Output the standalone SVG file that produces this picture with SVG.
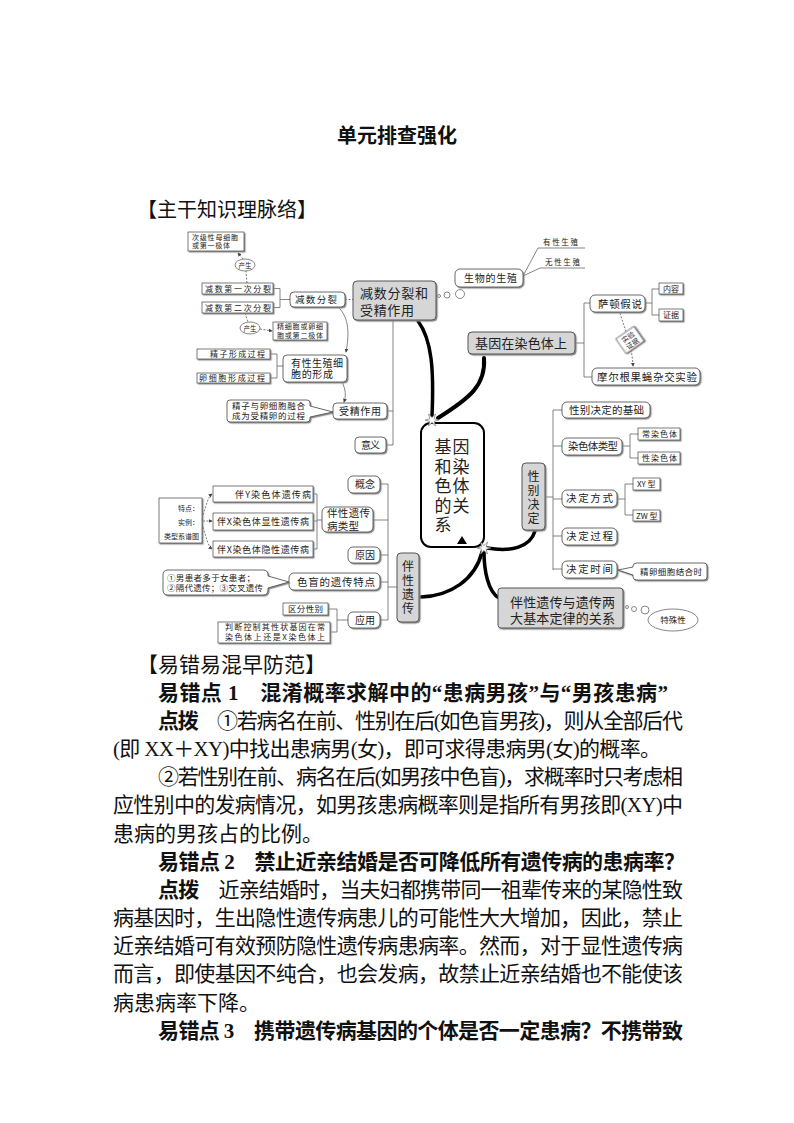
<svg xmlns="http://www.w3.org/2000/svg" width="794" height="1123" viewBox="0 0 794 1123">
<style>
text{font-family:"Liberation Serif","Noto Sans CJK SC",serif;fill:#111}
.m{font-family:"Noto Sans CJK SC",sans-serif;fill:#222}
.bt{font-size:21px}
.bd{font-weight:bold}
.sb{fill:#fff;stroke:#444;stroke-width:0.7;filter:url(#sh)}
.rb{fill:#fff;stroke:#444;stroke-width:0.8;filter:url(#sh)}
.gb{fill:#d6d6d6;stroke:#555;stroke-width:1;filter:url(#sh)}
.ln{fill:none;stroke:#666;stroke-width:0.8}
.ds{fill:none;stroke:#555;stroke-width:0.8;stroke-dasharray:2 1.5}
.tk{fill:none;stroke:#000;stroke-linecap:round}
.bub{fill:#fff;stroke:#555;stroke-width:0.7}
.st{fill:#fff;stroke:#777;stroke-width:0.7}
</style>
<defs>
<filter id="sh" x="-10%" y="-10%" width="130%" height="140%"><feDropShadow dx="1.2" dy="1.2" stdDeviation="0.5" flood-color="#8a8a8a"/></filter>
<marker id="ar" viewBox="0 0 6 6" refX="5" refY="3" markerWidth="5" markerHeight="5" orient="auto"><path d="M0,0 L6,3 L0,6 Z" fill="#444"/></marker>
<polygon id="star" points="7,0 2.17,1.25 3.5,6.06 0,2.5 -3.5,6.06 -2.17,1.25 -7,0 -2.17,-1.25 -3.5,-6.06 0,-2.5 3.5,-6.06 2.17,-1.25"/>
</defs>
<rect width="794" height="1123" fill="#fff"/>

<text x="397" y="143" font-size="20" font-weight="bold" text-anchor="middle">单元排查强化</text>
<text x="137" y="217" font-size="20">【主干知识理脉络】</text>

<g id="connectors">
<path class="ds" d="M247,283 L246,271"/>
<path class="ds" d="M243,259 L238,253" marker-end="url(#ar)"/>
<path class="ln" d="M273,288.5 H280 V307.5 H273 M280,299.5 H290"/>
<path class="ds" d="M345,299.5 H353"/>
<path class="ds" d="M245,313 L248,322"/>
<path class="ds" d="M260,329 L272,331" marker-end="url(#ar)"/>
<path class="ln" d="M270,354 H277 V378 H270 M277,366 H283"/>
<path class="ln" d="M338,307 C350,318 349,336 346,352" marker-end="url(#ar)"/>
<path class="ln" d="M342,382 C346,390 346,396 344,402" marker-end="url(#ar)"/>
<path class="ln" d="M393,320 V445 M387,411 H393 M386,445 H393"/>
<path class="ln" d="M523,276 L538,248 H585 M523,276 L540,268 H585"/>
<path class="ln" d="M575,343 H584 M584,303 V377 M584,303 H590 M584,377 H592"/>
<path class="ln" d="M645,303 H652 M652,289 V315 M652,289 H659 M652,315 H659"/>
<path class="ds" d="M620,313 C625,330 632,345 633,366" marker-end="url(#ar)"/>
<path class="ln" d="M545,497 H553 M553,410 V570 M553,410 H562 M553,446 H562 M553,499 H562 M553,536 H562 M553,569 H562"/>
<path class="ln" d="M622,446 H630 M630,434 V458 M630,434 H638 M630,458 H638"/>
<path class="ln" d="M617,499 H625 M625,484 V515 M625,484 H633 M625,515 H633"/>
<path class="ln" d="M397,587 H388 M388,484 V620 M388,484 H380 M388,520 H373 M388,555 H380 M388,582 H380 M388,620 H380"/>
<path class="ln" d="M348,620 H337 M337,609 V632 M337,609 H328 M337,632 H330"/>
<path class="ln" d="M322,520 H317 M317,494 V549 M317,494 H313 M317,521 H313 M317,549 H313"/>
<path class="ds" d="M203,515 C207,503 208,497 212,494" marker-end="url(#ar)"/>
<path class="ds" d="M203,521 H212" marker-end="url(#ar)"/>
<path class="ds" d="M203,527 C207,540 208,546 212,549" marker-end="url(#ar)"/>
<circle class="bub" cx="439" cy="296" r="1.5"/><circle class="bub" cx="447" cy="295" r="3"/><circle class="bub" cx="460" cy="294" r="4.5"/>
<circle class="bub" cx="627" cy="607" r="1.5"/><circle class="bub" cx="634" cy="609" r="2.5"/><circle class="bub" cx="645" cy="610" r="4"/>
<path class="tk" stroke-width="3.5" d="M418,321 C432,340 434,370 432,416"/>
<path class="tk" stroke-width="4" d="M484,358 C486,385 470,398 438,418"/>
<path class="tk" stroke-width="3.5" d="M535,531 C530,548 510,552 487,548"/>
<path class="tk" stroke-width="3.5" d="M421,597 C450,596 475,580 482,552"/>
<path class="tk" stroke-width="3.5" d="M499,598 C488,592 484,570 484,552"/>
</g>

<g id="n-cjms"><rect class="sb" x="188" y="232" width="56" height="19"/><text class="m" x="192" y="239.5" font-size="7" textLength="46">次级性母细胞</text><text class="m" x="192" y="248" font-size="7" textLength="38">或第一极体</text></g>
<g id="n-cs1"><ellipse class="bub" cx="245" cy="265" rx="10" ry="6"/><text class="m" x="245" y="267.5" font-size="6.5" text-anchor="middle">产生</text></g>
<g id="n-js1"><rect class="sb" x="202" y="283" width="71" height="11"/><text class="m" x="205" y="291.5" font-size="8" textLength="66">减数第一次分裂</text></g>
<g id="n-js2"><rect class="sb" x="202" y="302" width="71" height="11"/><text class="m" x="205" y="310.5" font-size="8" textLength="66">减数第二次分裂</text></g>
<g id="n-jsfl"><rect class="rb" x="290" y="292" width="55" height="15" rx="4"/><text class="m" x="295" y="303" font-size="9.5" textLength="42">减数分裂</text></g>
<g id="n-main1"><rect class="gb" x="353" y="281" width="83" height="39" rx="4"/><text class="m" x="360" y="297.5" font-size="13" textLength="68">减数分裂和</text><text class="m" x="360" y="314.5" font-size="13" textLength="54">受精作用</text></g>
<g id="n-cs2"><ellipse class="bub" cx="250" cy="328" rx="10" ry="6"/><text class="m" x="250" y="330.5" font-size="6.5" text-anchor="middle">产生</text></g>
<g id="n-jxb"><rect class="sb" x="273" y="322" width="54" height="18"/><text class="m" x="277" y="329" font-size="7" textLength="46">精细胞或卵细</text><text class="m" x="277" y="337.5" font-size="7" textLength="46">胞或第二极体</text></g>
<g id="n-jz"><rect class="sb" x="197" y="349" width="73" height="10"/><text class="m" x="210" y="357" font-size="8" textLength="55">精子形成过程</text></g>
<g id="n-lxb"><rect class="sb" x="197" y="373" width="73" height="10"/><text class="m" x="199" y="381" font-size="8" textLength="66">卵细胞形成过程</text></g>
<g id="n-yxsz"><rect class="rb" x="283" y="355" width="64" height="27" rx="4"/><text class="m" x="291" y="366.5" font-size="10" textLength="52">有性生殖细</text><text class="m" x="291" y="378" font-size="10" textLength="42">胞的形成</text></g>
<g id="n-jzrh"><path class="rb" d="M230,400 H307 Q310,400 310,403 V406 L333,412 L310,417 V419 Q310,422 307,422 H230 Q227,422 227,419 V403 Q227,400 230,400 Z"/><text class="m" x="232" y="409" font-size="8.5" textLength="73">精子与卵细胞融合</text><text class="m" x="232" y="419" font-size="8.5" textLength="73">成为受精卵的过程</text></g>
<g id="n-szzy"><rect class="rb" x="333" y="403" width="54" height="16" rx="4"/><text class="m" x="339" y="414.5" font-size="10" textLength="42">受精作用</text></g>
<g id="n-yy"><rect class="rb" x="355" y="437" width="31" height="16" rx="4"/><text class="m" x="361" y="448.5" font-size="10" textLength="19">意义</text></g>

<g id="n-swsz"><rect class="rb" x="455" y="269" width="68" height="18" rx="5"/><text class="m" x="464" y="281.5" font-size="10" textLength="53">生物的生殖</text></g>
<g id="n-yxs"><text class="m" x="543" y="245" font-size="7.5" textLength="35">有性生殖</text></g>
<g id="n-wxs"><text class="m" x="545" y="264.5" font-size="7.5" textLength="35">无性生殖</text></g>
<g id="n-main2"><rect class="gb" x="468" y="332" width="107" height="22" rx="4"/><text class="m" x="475" y="347.5" font-size="13" textLength="92">基因在染色体上</text></g>
<g id="n-sd"><rect class="rb" x="590" y="295" width="55" height="17" rx="5"/><text class="m" x="598" y="307.5" font-size="10.5" textLength="44">萨顿假说</text></g>
<g id="n-nr"><rect class="sb" x="659" y="283" width="24" height="11"/><text class="m" x="663" y="291.5" font-size="8" textLength="16">内容</text></g>
<g id="n-zj"><rect class="sb" x="659" y="309" width="24" height="12"/><text class="m" x="663" y="318" font-size="8" textLength="16">证据</text></g>
<g id="n-meg"><rect class="rb" x="592" y="368" width="108" height="17" rx="5"/><text class="m" x="597" y="380.5" font-size="10.5" textLength="100">摩尔根果蝇杂交实验</text></g>
<g id="n-syzj" transform="rotate(-35 630 340)"><rect class="sb" x="619" y="331" width="22" height="18"/><text class="m" x="630" y="339" font-size="7" text-anchor="middle">实验</text><text class="m" x="630" y="347" font-size="7" text-anchor="middle">证据</text></g>

<g id="n-center"><rect x="421" y="423" width="63" height="124" rx="10" fill="#fff" stroke="#000" stroke-width="2"/>
<text class="m" font-size="17" text-anchor="middle"><tspan x="443" y="453">基</tspan><tspan x="461" y="453">因</tspan><tspan x="443" y="472.5">和</tspan><tspan x="461" y="472.5">染</tspan><tspan x="443" y="492">色</tspan><tspan x="461" y="492">体</tspan><tspan x="443" y="511.5">的</tspan><tspan x="461" y="511.5">关</tspan><tspan x="443" y="531">系</tspan></text>
<path d="M457,544 L467,544 L462,536 Z" fill="#000"/></g>
<use href="#star" class="st" x="432" y="420"/>
<use href="#star" class="st" x="484" y="548"/>

<g id="n-xbjd"><rect class="gb" x="522" y="463" width="23" height="67" rx="4"/><text class="m" font-size="12" text-anchor="middle"><tspan x="533.5" y="481">性</tspan><tspan x="533.5" y="495">别</tspan><tspan x="533.5" y="509">决</tspan><tspan x="533.5" y="523">定</tspan></text></g>
<g id="n-jc"><rect class="rb" x="562" y="402" width="88" height="16" rx="5"/><text class="m" x="569" y="413.5" font-size="10.5" textLength="75">性别决定的基础</text></g>
<g id="n-rstlx"><rect class="rb" x="562" y="438" width="60" height="17" rx="5"/><text class="m" x="568" y="450" font-size="10.5" textLength="50">染色体类型</text></g>
<g id="n-crst"><rect class="sb" x="638" y="428" width="42" height="12"/><text class="m" x="642" y="437" font-size="8" textLength="35">常染色体</text></g>
<g id="n-xrst"><rect class="sb" x="638" y="452" width="42" height="12"/><text class="m" x="642" y="461" font-size="8" textLength="35">性染色体</text></g>
<g id="n-jdfs"><rect class="rb" x="562" y="490" width="55" height="17" rx="5"/><text class="m" x="566" y="502" font-size="10.5" textLength="47">决定方式</text></g>
<g id="n-xy"><rect class="sb" x="633" y="478" width="27" height="12"/><text class="m" x="637" y="487" font-size="8">XY 型</text></g>
<g id="n-zw"><rect class="sb" x="633" y="510" width="27" height="11"/><text class="m" x="636" y="518.5" font-size="8">ZW 型</text></g>
<g id="n-jdgc"><rect class="rb" x="562" y="528" width="55" height="17" rx="5"/><text class="m" x="566" y="540" font-size="10.5" textLength="47">决定过程</text></g>
<g id="n-jdsj"><rect class="rb" x="562" y="561" width="55" height="17" rx="5"/><text class="m" x="566" y="573" font-size="10.5" textLength="47">决定时间</text></g>
<g id="n-jlxb"><path class="rb" d="M637,563 H704 Q707,563 707,566 V577 Q707,580 704,580 H637 Q633,580 633,577 V575 L618,570 L633,567 V566 Q633,563 637,563 Z"/><text class="m" x="640" y="574.5" font-size="8.5" textLength="62">精卵细胞结合时</text></g>
<g id="n-main3"><rect class="gb" x="498" y="588" width="125" height="40" rx="3"/><text class="m" x="510" y="606.5" font-size="13" textLength="105">伴性遗传与遗传两</text><text class="m" x="510" y="622.5" font-size="13" textLength="105">大基本定律的关系</text></g>
<g id="n-tsx"><ellipse class="bub" cx="673" cy="620" rx="25" ry="11"/><text class="m" x="673" y="623" font-size="8.5" text-anchor="middle">特殊性</text></g>

<g id="n-bxyc"><rect class="gb" x="397" y="553" width="22" height="69" rx="4"/><text class="m" font-size="12" text-anchor="middle"><tspan x="408" y="571">伴</tspan><tspan x="408" y="585">性</tspan><tspan x="408" y="599">遗</tspan><tspan x="408" y="613">传</tspan></text></g>
<g id="n-gn"><rect class="rb" x="348" y="476" width="32" height="17" rx="5"/><text class="m" x="355" y="488" font-size="10" textLength="20">概念</text></g>
<g id="n-lx"><rect class="rb" x="322" y="507" width="51" height="25" rx="5"/><text class="m" x="327" y="517" font-size="10.5" textLength="43">伴性遗传</text><text class="m" x="327" y="529.5" font-size="10.5" textLength="32">病类型</text></g>
<g id="n-yyin"><rect class="rb" x="348" y="547" width="32" height="16" rx="5"/><text class="m" x="355" y="559" font-size="10" textLength="20">原因</text></g>
<g id="n-sm"><rect class="rb" x="289" y="573" width="91" height="17" rx="5"/><text class="m" x="297" y="585.5" font-size="10.5" textLength="78">色盲的遗传特点</text></g>
<g id="n-yyong"><rect class="rb" x="348" y="612" width="32" height="16" rx="5"/><text class="m" x="355" y="624" font-size="10" textLength="20">应用</text></g>
<g id="n-qf"><rect class="sb" x="283" y="603" width="45" height="12"/><text class="m" x="288" y="612" font-size="8.5" textLength="35">区分性别</text></g>
<g id="n-pd"><rect class="sb" x="218" y="622" width="112" height="21"/><text class="m" x="225" y="630" font-size="8" textLength="100">判断控制其性状基因在常</text><text class="m" x="225" y="640" font-size="8" textLength="100">染色体上还是X染色体上</text></g>
<g id="n-by"><rect class="sb" x="213" y="486" width="100" height="16"/><text class="m" x="235" y="497.5" font-size="9" textLength="76">伴Y染色体遗传病</text></g>
<g id="n-bxx"><rect class="sb" x="213" y="513" width="100" height="17"/><text class="m" x="217" y="525" font-size="9" textLength="92">伴X染色体显性遗传病</text></g>
<g id="n-bxy"><rect class="sb" x="213" y="541" width="100" height="16"/><text class="m" x="217" y="552.5" font-size="9" textLength="92">伴X染色体隐性遗传病</text></g>
<g id="n-td"><rect class="sb" x="159" y="498" width="43" height="45"/><text class="m" font-size="7" text-anchor="end"><tspan x="199" y="510.5">特点：</tspan><tspan x="199" y="524.5">实例：</tspan><tspan x="199" y="539">类型系谱图</tspan></text></g>
<g id="n-smtd"><path class="rb" d="M168,570 H263 Q268,570 268,575 V576 L289,582 L268,588 V590 Q268,595 263,595 H168 Q163,595 163,590 V575 Q163,570 168,570 Z"/><text class="m" x="167" y="581" font-size="8.5" textLength="88">①男患者多于女患者；</text><text class="m" x="167" y="591" font-size="8.5" textLength="96">②隔代遗传；③交叉遗传</text></g>

<g id="body">
<text class="bt" x="137" y="671.5">【易错易混早防范】</text>
<text class="bt bd" x="158" y="699.7" textLength="510" lengthAdjust="spacing">易错点 1　混淆概率求解中的“患病男孩”与“男孩患病”</text>
<text class="bt" x="158" y="727.8" textLength="525" lengthAdjust="spacing"><tspan class="bd">点拨</tspan>　①若病名在前、性别在后(如色盲男孩)，则从全部后代</text>
<text class="bt" x="113" y="756" textLength="548" lengthAdjust="spacing">(即 XX＋XY)中找出患病男(女)，即可求得患病男(女)的概率。</text>
<text class="bt" x="158" y="784" textLength="525" lengthAdjust="spacing">②若性别在前、病名在后(如男孩中色盲)，求概率时只考虑相</text>
<text class="bt" x="113" y="812" textLength="570" lengthAdjust="spacing">应性别中的发病情况，如男孩患病概率则是指所有男孩即(XY)中</text>
<text class="bt" x="113" y="840.5">患病的男孩占的比例。</text>
<text class="bt bd" x="158" y="868.5" textLength="527" lengthAdjust="spacing">易错点 2　禁止近亲结婚是否可降低所有遗传病的患病率？</text>
<text class="bt" x="158" y="896.7" textLength="525" lengthAdjust="spacing"><tspan class="bd">点拨</tspan>　近亲结婚时，当夫妇都携带同一祖辈传来的某隐性致</text>
<text class="bt" x="113" y="925" textLength="570" lengthAdjust="spacing">病基因时，生出隐性遗传病患儿的可能性大大增加，因此，禁止</text>
<text class="bt" x="113" y="953" textLength="570" lengthAdjust="spacing">近亲结婚可有效预防隐性遗传病患病率。然而，对于显性遗传病</text>
<text class="bt" x="113" y="981" textLength="570" lengthAdjust="spacing">而言，即使基因不纯合，也会发病，故禁止近亲结婚也不能使该</text>
<text class="bt" x="113" y="1009.5">病患病率下降。</text>
<text class="bt bd" x="158" y="1037.5" textLength="525" lengthAdjust="spacing">易错点 3　携带遗传病基因的个体是否一定患病？不携带致</text>
</g>
</svg>
